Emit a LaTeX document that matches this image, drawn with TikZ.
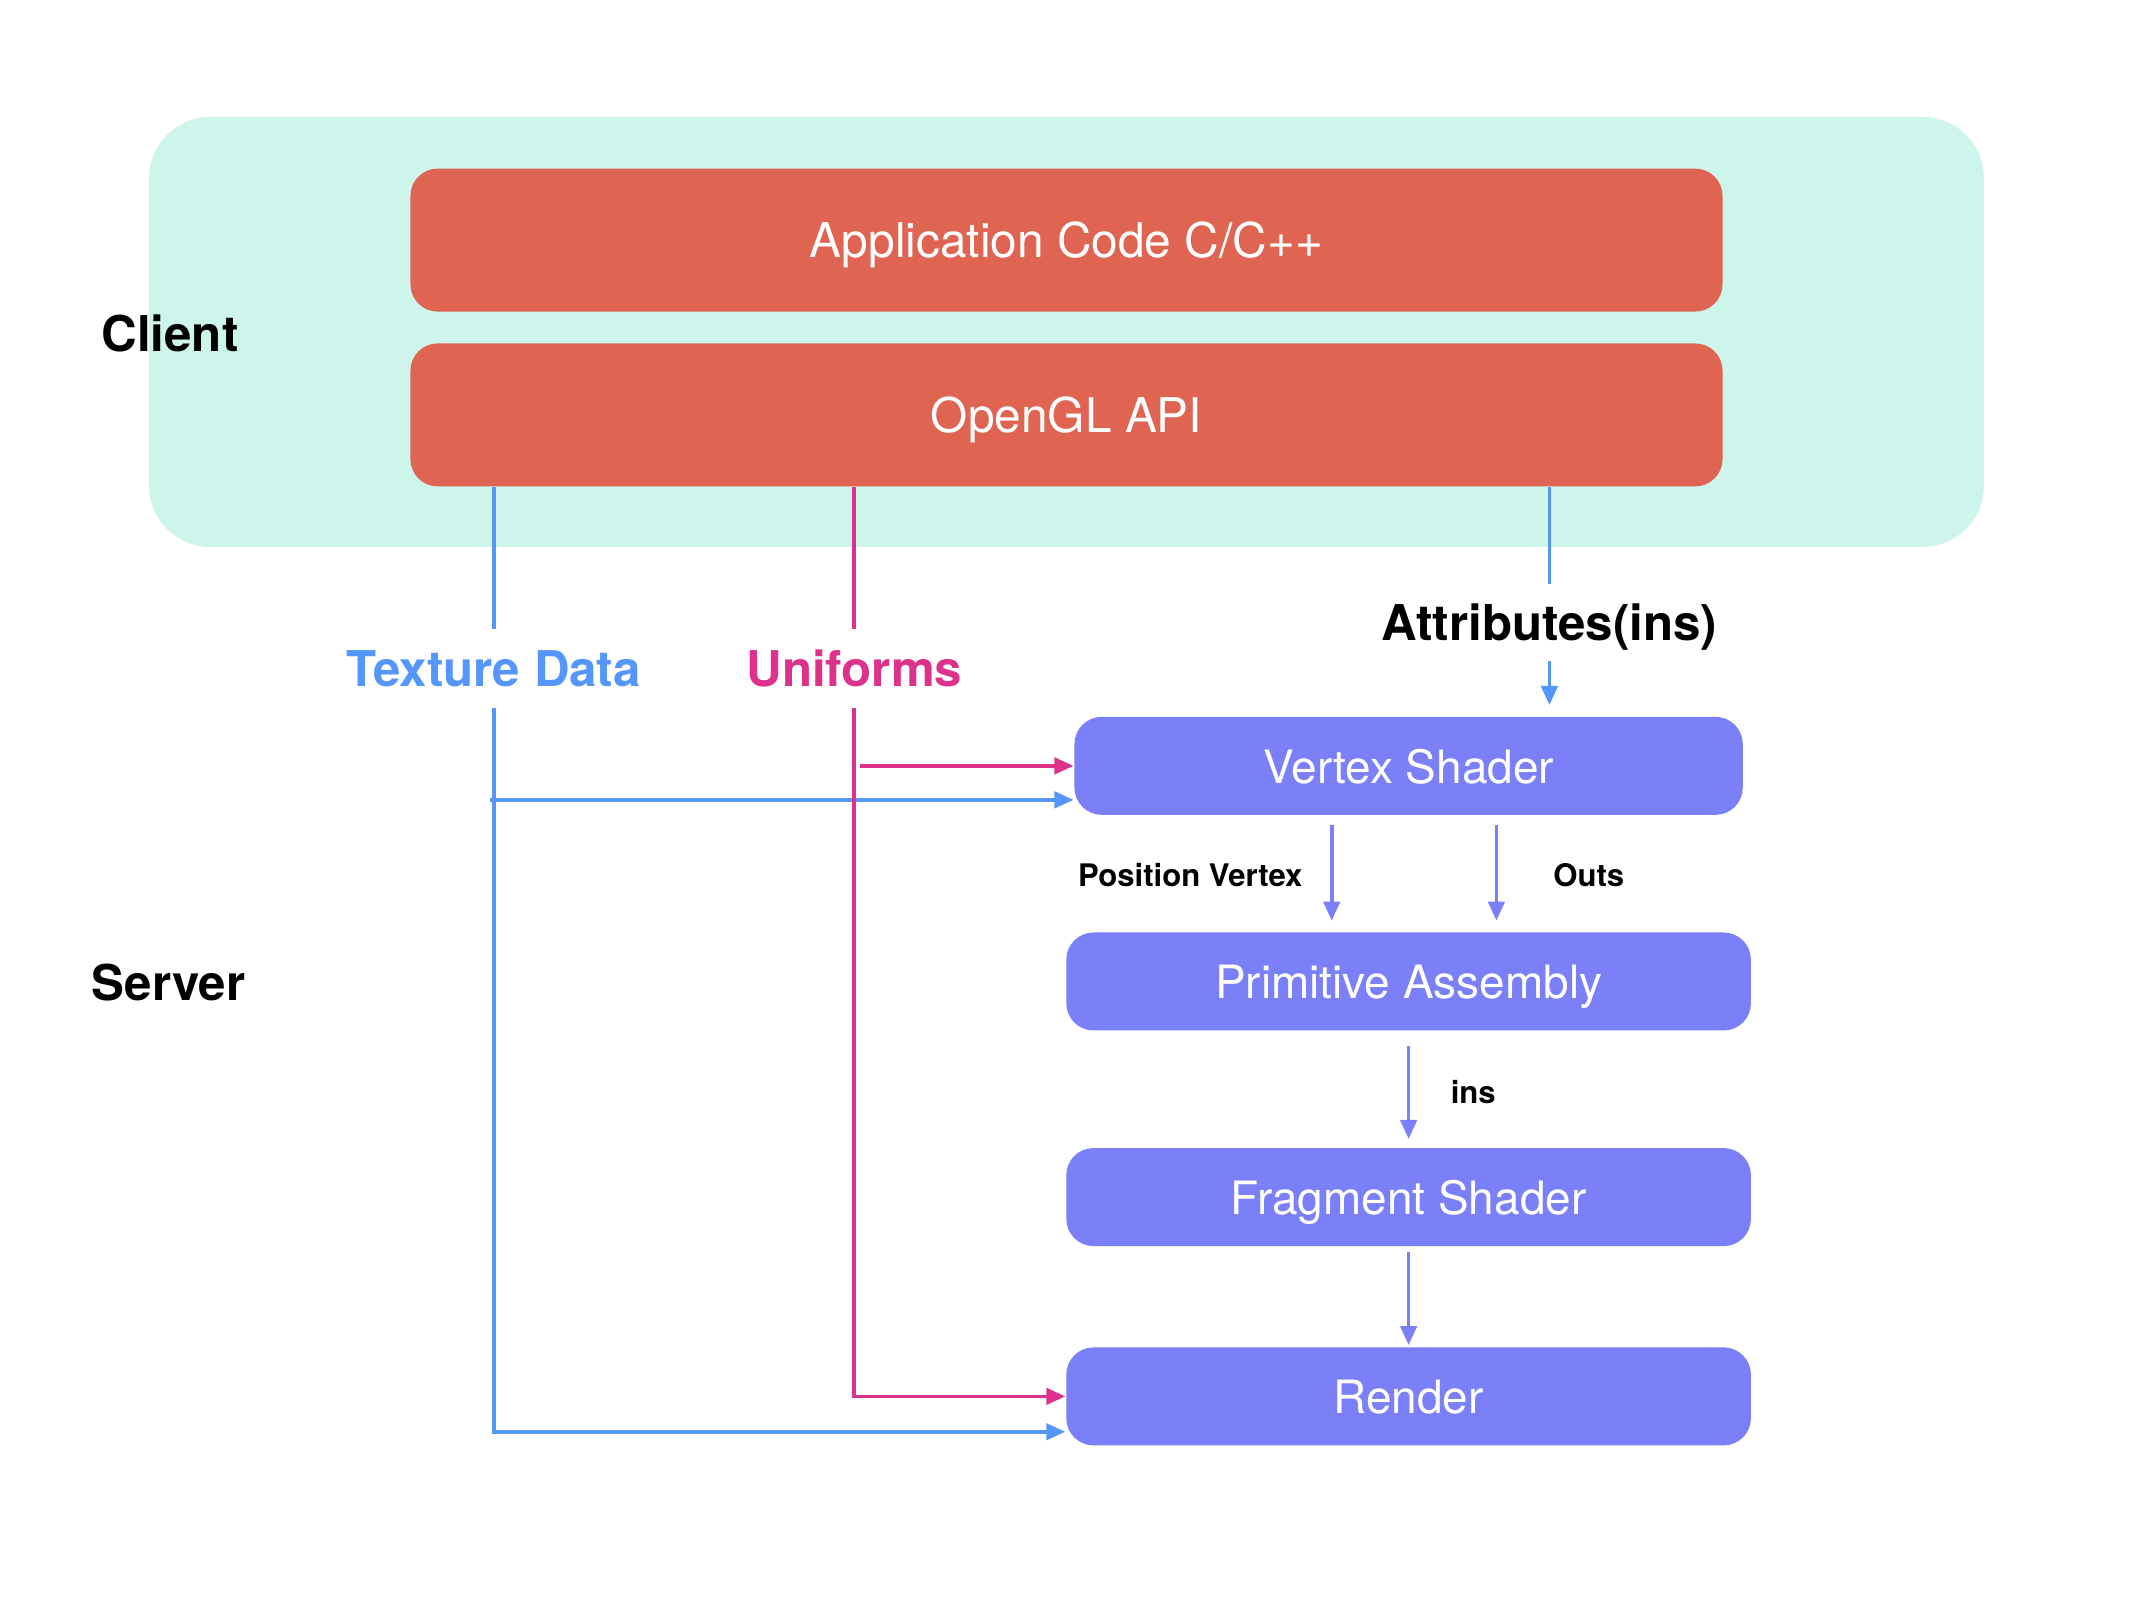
\documentclass[tikz,border=0pt]{standalone}
\usepackage{fontspec}
\setmainfont{TeX Gyre Heros}
\usetikzlibrary{arrows.meta}
\definecolor{mint}{RGB}{206,245,235}
\definecolor{tomato}{RGB}{224,100,82}
\definecolor{violetbox}{RGB}{123,128,248}
\definecolor{bluel}{RGB}{84,150,250}
\definecolor{magl}{RGB}{221,50,140}
\begin{document}
\begin{tikzpicture}[x=0.01cm,y=-0.01cm,
  redbox/.style={fill=tomato, rounded corners=0.2cm, minimum width=9.64cm, minimum height=1.05cm, text=white, font=\fontsize{10pt}{12pt}\selectfont, inner sep=0pt, text depth=0pt},
  purplebox/.style={fill=violetbox, rounded corners=0.2cm, minimum width=5.03cm, minimum height=0.72cm, text=white, font=\fontsize{9.6pt}{11pt}\selectfont, inner sep=0pt, text depth=0pt},
  biglabel/.style={font=\fontsize{10.3pt}{12pt}\selectfont\bfseries, inner sep=0pt, text depth=0pt},
  smalllabel/.style={font=\fontsize{6.5pt}{7pt}\selectfont\bfseries, inner sep=0pt, text depth=0pt},
  tip/.style={-{Triangle[length=0.14cm,width=0.12cm]}},
  bline/.style={draw=bluel, line width=0.75pt},
  mline/.style={draw=magl, line width=0.75pt},
  pline/.style={draw=violetbox, line width=0.75pt},
]
\useasboundingbox (0,0) rectangle (1568,1176);
\fill[white] (0,0) rectangle (1568,1176);

% client area
\node[fill=mint, rounded corners=0.45cm, minimum width=13.48cm, minimum height=3.16cm, inner sep=0pt] (client) at (784,244) {};
\node[redbox] (app) at (784,176.5) {Application Code C/C++};
\node[redbox] (api) at (784,305) {OpenGL API};

\node[biglabel] (clientlbl) at (125,245) {Client};
\node[biglabel] (serverlbl) at (124,722) {Server};

% server boxes
\node[purplebox, minimum width=4.91cm] (vs) at (1035.5,563) {Vertex Shader};
\node[purplebox] (pa) at (1035.5,721.5) {Primitive Assembly};
\node[purplebox] (fs) at (1035.5,880) {Fragment Shader};
\node[purplebox] (render) at (1035.5,1026.5) {Render};

% connector labels
\node[biglabel, text=bluel, minimum height=0.57cm] (tex) at (363,491.5) {Texture Data};
\node[biglabel, text=magl, minimum height=0.57cm] (uni) at (628,491.5) {Uniforms};
\node[biglabel, minimum height=0.55cm] (attr) at (1139,457.5) {Attributes(ins)};

\coordinate (vsb) at ([yshift=-0.25cm]vs.west);
\coordinate (rb) at ([yshift=-0.26cm]render.west);

% texture data
\draw[bline] (api.south -| tex.north) -- (tex.north);
\draw[bline, tip] (tex.south) |- (rb);
\draw[bline, tip] ([xshift=-0.03cm]tex.south |- vsb) -- (vsb);

% uniforms
\draw[mline] (api.south -| uni.north) -- (uni.north);
\draw[mline, tip] (uni.south) |- (render.west);
\draw[mline, tip] ([xshift=0.04cm]uni.south |- vs.west) -- (vs.west);

% attributes
\draw[bline] (api.south -| attr.north) -- (attr.north);
\draw[bline, tip, shorten >=0.08cm] (attr.south) -- (attr.south |- vs.north);

% pipeline arrows
\draw[pline, tip] ([xshift=-0.565cm,yshift=-0.07cm]vs.south) -- ([xshift=-0.565cm,yshift=0.08cm]pa.north);
\draw[pline, tip] ([xshift=0.645cm,yshift=-0.07cm]vs.south) -- ([xshift=0.645cm,yshift=0.08cm]pa.north);
\draw[pline, tip] ([yshift=-0.11cm]pa.south) -- ([yshift=0.06cm]fs.north);
\draw[pline, tip] ([yshift=-0.04cm]fs.south) -- ([yshift=0.01cm]render.north);

\node[smalllabel] (pvl) at (875,643) {Position Vertex};
\node[smalllabel] (outl) at (1168,643) {Outs};
\node[smalllabel] (insl) at (1083,803) {ins};
\end{tikzpicture}
\end{document}
